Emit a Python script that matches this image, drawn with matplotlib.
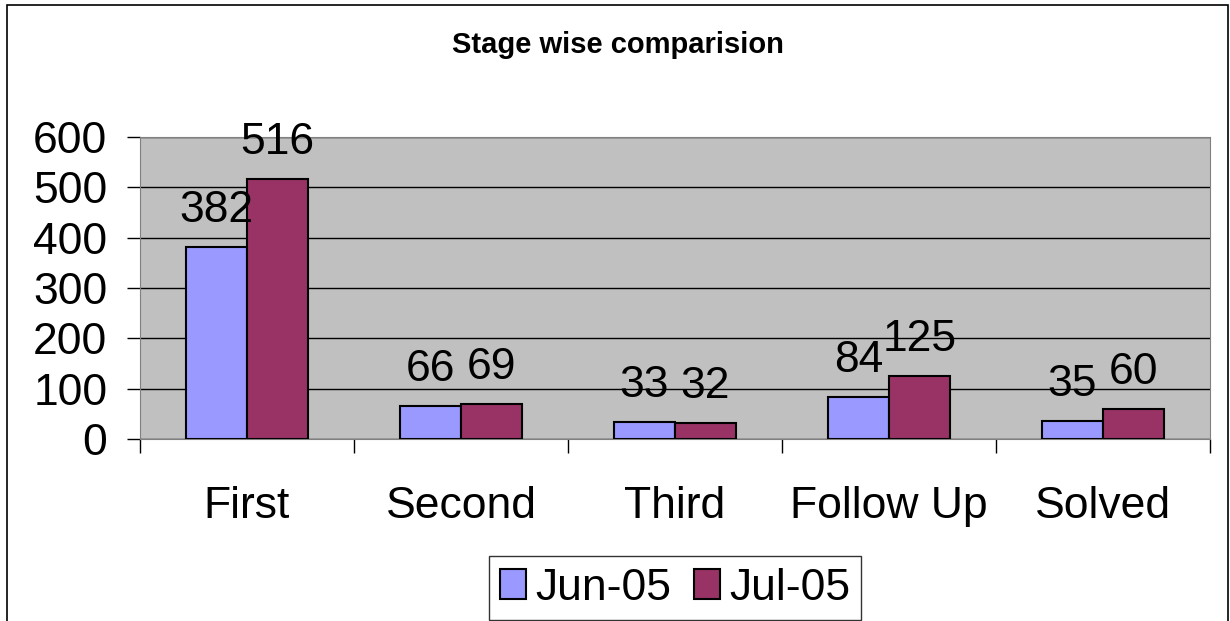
import numpy as np
import matplotlib
matplotlib.use("Agg")
import matplotlib.pyplot as plt
from matplotlib.patches import Rectangle

plt.rcParams['font.family'] = ['Liberation Sans', 'DejaVu Sans']

# --- data ---
stages = ["First", "Second", "Third", "Follow Up", "Solved"]
jun_05 = [382, 66, 33, 84, 35]
jul_05 = [516, 69, 32, 125, 60]
series_labels = ["Jun-05", "Jul-05"]
y_ticks = [0, 100, 200, 300, 400, 500, 600]

FS = 32


def main():
    fig = plt.figure(figsize=(12.3, 6.21), dpi=100)
    ax = fig.add_axes([140 / 1230, 1 - 439 / 621, 1070 / 1230, 302 / 621])

    x = np.arange(len(stages))
    w = 0.285
    bars1 = ax.bar(x - w / 2, jun_05, w, color="#9999FF", edgecolor="black",
                   linewidth=1.5, label=series_labels[0], zorder=3)
    bars2 = ax.bar(x + w / 2, jul_05, w, color="#993366", edgecolor="black",
                   linewidth=1.5, label=series_labels[1], zorder=3)

    # value labels above bars
    for bars in (bars1, bars2):
        for b in bars:
            ax.annotate(f"{b.get_height():.0f}",
                        (b.get_x() + b.get_width() / 2, b.get_height()),
                        xytext=(0, 18), textcoords="offset points",
                        ha="center", va="baseline", fontsize=FS, zorder=4)

    ax.set_facecolor("#C0C0C0")
    ax.set_xlim(-0.5, len(stages) - 0.5)
    ax.set_ylim(0, 600)
    ax.set_yticks(y_ticks)
    ax.yaxis.grid(True, color="black", linewidth=1, zorder=1)
    ax.set_axisbelow(True)

    # ticks between categories, labels at centers
    ax.set_xticks(np.arange(len(stages) + 1) - 0.5)
    ax.set_xticklabels([])
    ax.set_xticks(x, minor=True)
    ax.set_xticklabels(stages, minor=True)
    ax.tick_params(axis="x", which="major", length=10, width=1, direction="out")
    ax.tick_params(axis="x", which="minor", length=0, pad=33.5, labelsize=FS)
    ax.tick_params(axis="y", length=9.5, width=1, direction="out", labelsize=FS, pad=14)

    for side in ("top", "right", "left", "bottom"):
        ax.spines[side].set_color("#808080")

    fig.text(618 / 1230, 1 - 45 / 621, "Stage wise comparision",
             ha="center", va="center", fontsize=21, fontweight="bold")

    leg = fig.legend(handles=[bars1, bars2], labels=series_labels,
                     loc="center", bbox_to_anchor=(675 / 1230, 1 - 588 / 621),
                     ncol=2, fontsize=FS, frameon=True, fancybox=False,
                     edgecolor="black", handlelength=0.6, handleheight=0.65,
                     handletextpad=0.2, columnspacing=0.5, borderpad=0.25,
                     borderaxespad=0)
    leg.get_frame().set_linewidth(1)

    # outer chart border
    fig.patches.append(Rectangle((7 / 1230, -0.05), 1221 / 1230, 1.05 - 5 / 621,
                                 transform=fig.transFigure, fill=False,
                                 edgecolor="black", linewidth=1.2))

    fig.savefig("out.png", dpi=100)


if __name__ == "__main__":
    main()
